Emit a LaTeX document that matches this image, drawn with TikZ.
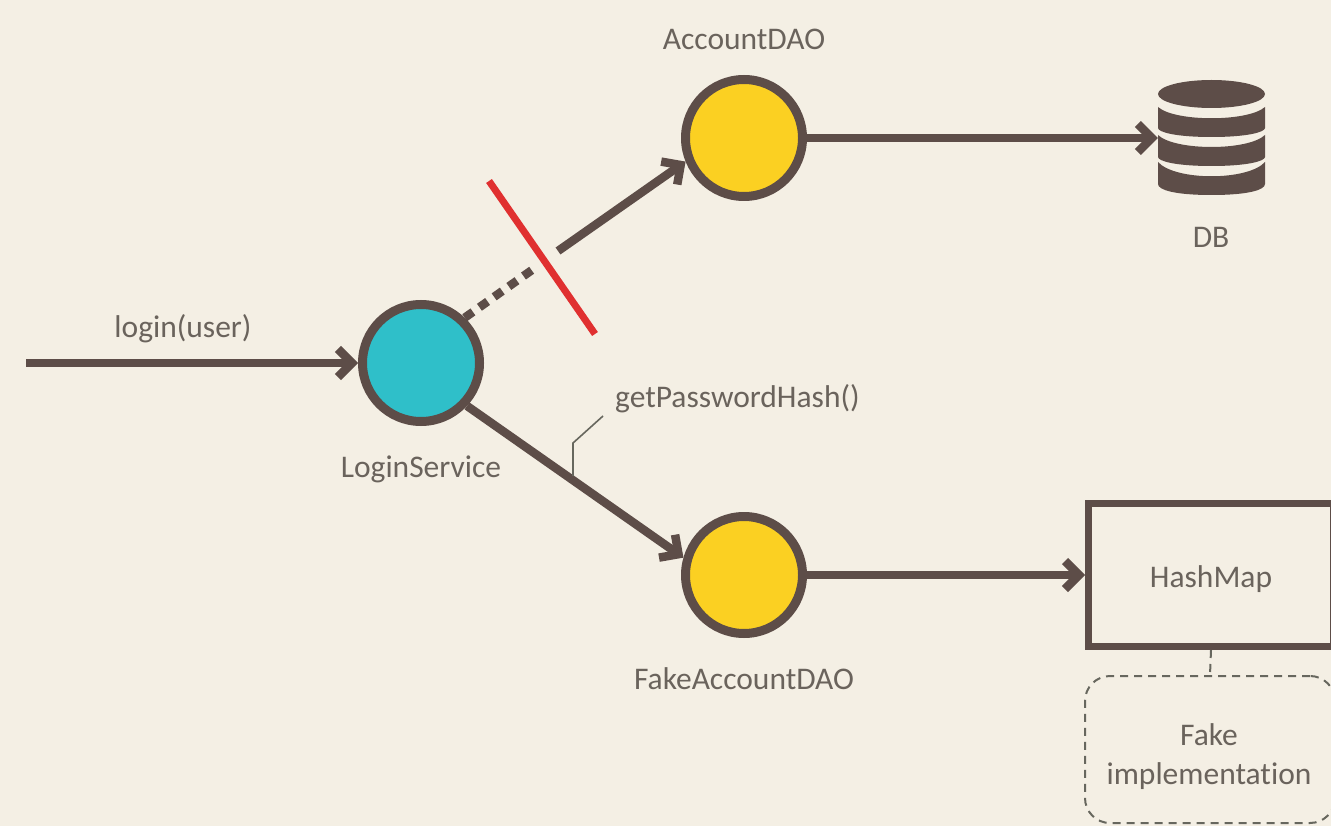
\documentclass[tikz,border=0pt]{standalone}
\usepackage{fontspec}
\setmainfont[Ligatures=NoCommon]{Carlito}
\usetikzlibrary{arrows.meta}
\definecolor{bgc}{HTML}{F4EFE4}
\definecolor{brownc}{HTML}{5D4D48}
\definecolor{tealc}{HTML}{2FBFC9}
\definecolor{yellowc}{HTML}{FBD022}
\definecolor{redc}{HTML}{E03030}
\definecolor{textc}{HTML}{6A635C}
\definecolor{thinc}{HTML}{67675E}
\tikzset{
  x=1pt,y=-1pt,
  circlenode/.style={circle,draw=brownc,line width=9pt,minimum size=117pt,inner sep=0pt},
  label text/.style={text=textc,font=\fontsize{31.5}{39}\selectfont,inner sep=0pt,align=center},
  conn/.style={draw=brownc,line width=8.5pt},
  arr/.style={conn,-{Straight Barb[length=14pt,width=28pt]}},
  thin leader/.style={draw=thinc,line width=1.6pt},
  dash leader/.style={draw=thinc,line width=2pt,dash pattern=on 8pt off 6pt},
  dbpart/.style={fill=brownc,draw=none},
}
\begin{document}
\begin{tikzpicture}
\fill[bgc] (0,0) rectangle (1331,826);
\clip (0,0) rectangle (1331,826);
% nodes
\node[circlenode,fill=tealc] (login) at (421,363) {};
\node[circlenode,fill=yellowc] (account) at (744,138) {};
\node[circlenode,fill=yellowc] (fake) at (744,575) {};
\node[inner sep=0pt,minimum width=107pt,minimum height=115pt] (db) at (1211.5,138) {};
\node[draw=brownc,line width=7pt,minimum width=245pt,minimum height=143pt] (hashmap) at (1211,575) {};
\node[dash leader,rounded corners=25pt,minimum width=250pt,minimum height=147pt] (impl) at (1210,749.5) {};
% labels
\node[label text] (hashtext) at (1211,579) {HashMap};
\node[label text] (impltext) at (1209,757) {Fake\\implementation};
\node[label text] (accountlabel) at (744,39) {AccountDAO};
\node[label text] (dblabel) at (1211,237) {DB};
\node[label text] (loginlabel) at (183,329) {login(user)};
\node[label text] (servicelabel) at (421,469) {LoginService};
\node[label text] (fakelabel) at (744,679) {FakeAccountDAO};
\node[label text,anchor=west] (hashlabel) at (615,399) {getPasswordHash()};
% database icon
\fill[dbpart] (1211.5,94) ellipse [x radius=53.5pt,y radius=14pt];
\fill[dbpart] (1158,107) .. controls (1175,122) and (1248,122) .. (1265,107) -- (1265,128) .. controls (1265,132) and (1248,137) .. (1211.5,137) .. controls (1175,137) and (1158,132) .. (1158,128) -- cycle;
\fill[dbpart] (1158,135) .. controls (1175,151) and (1248,151) .. (1265,135) -- (1265,157) .. controls (1265,161) and (1248,166) .. (1211.5,166) .. controls (1175,166) and (1158,161) .. (1158,157) -- cycle;
\fill[dbpart] (1158,162) .. controls (1175,181) and (1248,181) .. (1265,162) -- (1265,184) .. controls (1265,190) and (1248,195) .. (1211.5,195) .. controls (1175,195) and (1158,190) .. (1158,184) -- cycle;
% connectors
\coordinate (start) at (26,363);
\coordinate (gapa) at (532,270);
\coordinate (gapb) at (558,251);
\coordinate (redtop) at (489,181);
\coordinate (redbot) at (595,334);
\coordinate (leadera) at (603,416);
\coordinate (leaderb) at (573,443);
\coordinate (leaderc) at (573,476);
\draw[arr] (start) -- (login.west);
\draw[conn,dash pattern=on 10pt off 8pt] (login.46) -- (gapa);
\draw[arr] (gapb) -- (account.202);
\draw[draw=redc,line width=7pt] (redtop) -- (redbot);
\draw[arr] (login.317) -- (fake.164);
\draw[arr] (account.east) -- (db.west);
\draw[arr] (fake.east) -- (fake.east -| hashmap.west);
\draw[thin leader] (leadera) -- (leaderb) -- (leaderc);
\draw[dash leader] (hashmap.south) -- (impl.north);
\end{tikzpicture}
\end{document}
